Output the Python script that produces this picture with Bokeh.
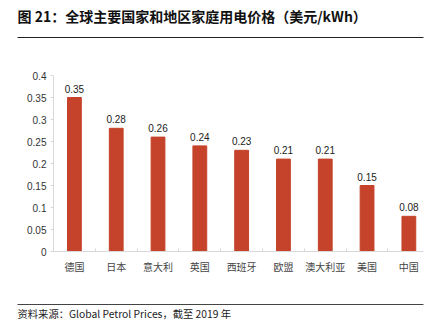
from bokeh.plotting import figure
from bokeh.layouts import column
from bokeh.models import Range1d, FixedTicker, ColumnDataSource, LabelSet
from bokeh.core.properties import value
from bokeh.embed import file_html
from bokeh.resources import INLINE

categories = ["德国", "日本", "意大利", "英国", "西班牙", "欧盟", "澳大利亚", "美国", "中国"]
prices = [0.35, 0.28, 0.26, 0.24, 0.23, 0.21, 0.21, 0.15, 0.08]
y_ticks = [0, 0.05, 0.1, 0.15, 0.2, 0.25, 0.3, 0.35, 0.4]
y_tick_labels = ["0", "0.05", "0.1", "0.15", "0.2", "0.25", "0.3", "0.35", "0.4"]
title_text = "图 21：全球主要国家和地区家庭用电价格（美元/kWh）"
source_text = "资料来源：Global Petrol Prices，截至 2019 年"

W = 437
H_TOP, H_MAIN, H_BOT = 55, 235, 43


def blank(h):
    f = figure(width=W, height=h, output_backend="svg", toolbar_location=None,
               x_range=Range1d(0, W), y_range=Range1d(0, h), title=None,
               x_axis_type=None, y_axis_type=None, frame_align=False)
    f.min_border = 0
    f.min_border_left = 0
    f.min_border_right = 0
    f.min_border_top = 0
    f.min_border_bottom = 0
    f.outline_line_color = None
    f.grid.visible = False
    f.border_fill_alpha = 0
    f.background_fill_alpha = 0
    return f


# ---- title strip (y measured from the strip's top)
top = blank(H_TOP)
top.text(x=[17], y=[H_TOP - 15], text=[title_text], text_font=value("Noto Sans CJK SC"),
         text_font_style="bold", text_font_size="14px", text_color="#111111",
         text_baseline="middle", text_align="left")
top.line(x=[17, 423], y=[H_TOP - 37, H_TOP - 37], line_color="#222222", line_width=1.2)

# ---- main chart
xs = list(range(len(categories)))
src = ColumnDataSource(dict(x=xs, top=prices, lbl=["%.2f" % v for v in prices]))

p = figure(width=W, height=H_MAIN, output_backend="svg", toolbar_location=None,
           x_range=Range1d(-0.5, 8.35), y_range=Range1d(0, 0.4), frame_align=False)
p.min_border_left = 53
p.min_border_right = 14
p.min_border_top = 75 - H_TOP
p.min_border_bottom = H_TOP + H_MAIN - 251
p.outline_line_color = None
p.grid.visible = False
p.border_fill_alpha = 0

p.vbar(x="x", top="top", width=0.33, source=src, color="#C5432A")
p.add_layout(LabelSet(x="x", y="top", text="lbl", source=src, text_align="center",
                      text_baseline="bottom", y_offset=5, text_font_size=value("10px"),
                      text_color="#222222", text_font=value("Liberation Sans")))

xa = p.xaxis[0]
xa.ticker = FixedTicker(ticks=xs, minor_ticks=[i + 0.5 for i in range(len(categories) - 1)])
xa.major_label_overrides = {i: c for i, c in enumerate(categories)}
xa.major_tick_line_color = None
xa.major_tick_out = 0
xa.major_tick_in = 0
xa.minor_tick_in = 3
xa.minor_tick_out = 0
xa.minor_tick_line_color = "#d9d9d9"
xa.axis_line_color = "#d9d9d9"
xa.major_label_text_font = "Noto Sans CJK SC"
xa.major_label_text_font_size = "10px"
xa.major_label_text_color = "#444444"
xa.major_label_standoff = 7

ya = p.yaxis[0]
ya.ticker = FixedTicker(ticks=y_ticks)
ya.major_label_overrides = {t: l for t, l in zip(y_ticks, y_tick_labels)}
ya.minor_tick_line_color = None
ya.major_tick_out = 3
ya.major_tick_in = 0
ya.major_tick_line_color = "#d9d9d9"
ya.axis_line_color = "#d9d9d9"
ya.major_label_text_font = "Liberation Sans"
ya.major_label_text_font_size = "10px"
ya.major_label_text_color = "#333333"
ya.major_label_standoff = 4

# ---- footer strip
bot = blank(H_BOT)
bot.line(x=[17, 423], y=[H_BOT - 14, H_BOT - 14], line_color="#444444", line_width=1)
bot.text(x=[17], y=[H_BOT - 23], text=[source_text], text_font=value("Noto Sans CJK SC"),
         text_font_size="10.3px", text_color="#222222",
         text_baseline="middle", text_align="left")

layout = column(top, p, bot, spacing=0)
open("out.html", "w").write(file_html(layout, INLINE))
